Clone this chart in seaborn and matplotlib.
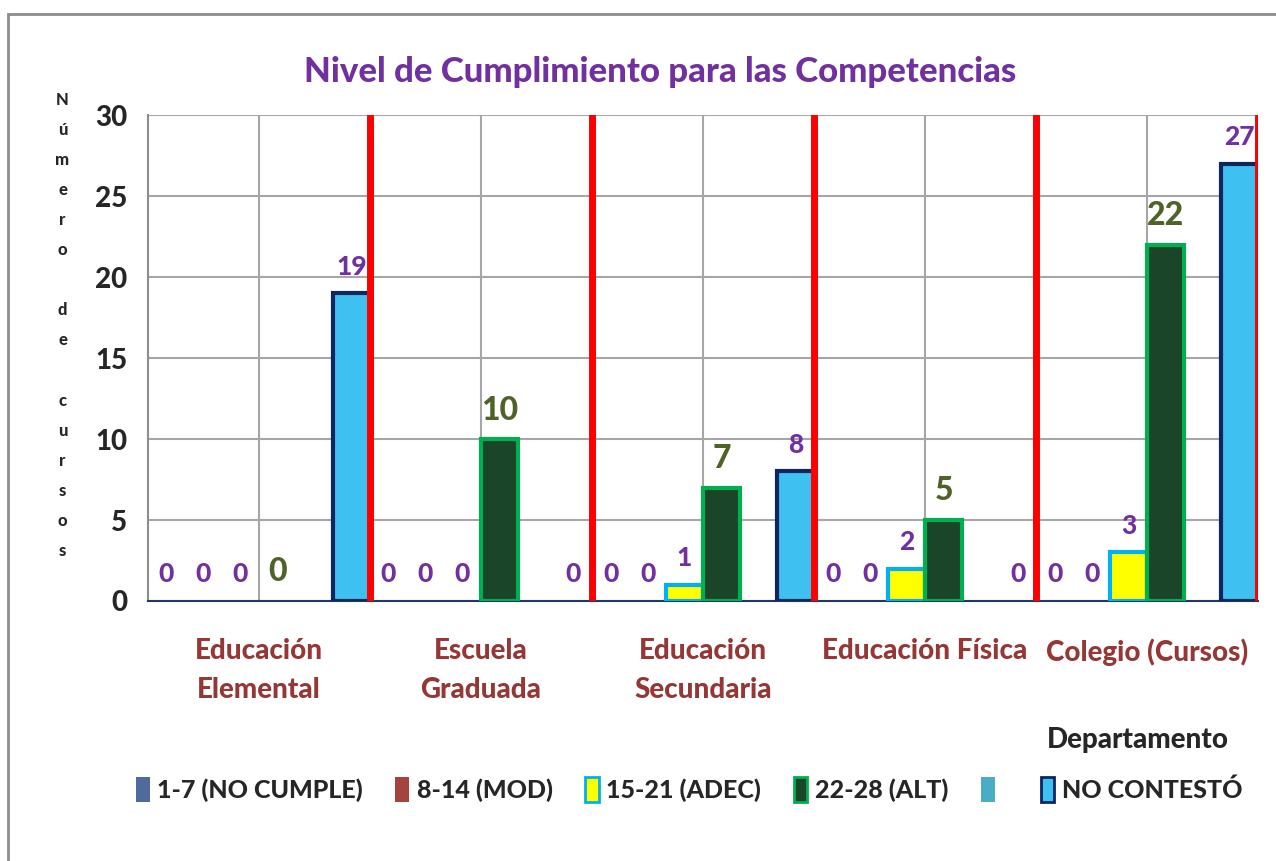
import numpy as np
import pandas as pd
import matplotlib
matplotlib.use("Agg")
import matplotlib.pyplot as plt
from matplotlib.patches import Patch, Rectangle
import seaborn as sns

# data
departamentos = ["Educación\nElemental", "Escuela\nGraduada", "Educación\nSecundaria",
                 "Educación Física", "Colegio (Cursos)"]
niveles = ["1-7 (NO CUMPLE)", "8-14 (MOD)", "15-21 (ADEC)", "22-28 (ALT)", " ", "NO CONTESTÓ"]
no_cumple = [0, 0, 0, 0, 0]
moderado = [0, 0, 0, 0, 0]
adecuado = [0, 0, 1, 2, 3]
alto = [0, 10, 7, 5, 22]
vacio = [0, 0, 0, 0, 0]          # series with no data / no labels
no_contesto = [19, 0, 8, 0, 27]

series = [no_cumple, moderado, adecuado, alto, vacio, no_contesto]
fill = ["#4F6A9B", "#A5433F", "#FFFF00", "#1A4528", "#4BACC6", "#3EC1F0"]
edge = ["#4F6A9B", "#A5433F", "#00B0F0", "#00B050", "#4BACC6", "#0D2560"]
purple = "#7030A0"
olive = "#4F6228"
W = "black"

rows = []
for nivel, vals in zip(niveles, series):
    for dep, v in zip(departamentos, vals):
        rows.append({"Departamento": dep, "Nivel": nivel, "Cursos": v})
df = pd.DataFrame(rows)

sns.set_style("white")
plt.rcParams["font.family"] = ["Lato", "DejaVu Sans"]
plt.rcParams["font.weight"] = W

fig = plt.figure(figsize=(12.76, 8.61), dpi=100)
ax = fig.add_axes([0.116, 0.302, 0.870, 0.564])

sns.barplot(data=df, x="Departamento", y="Cursos", hue="Nivel", hue_order=niveles,
            order=departamentos, width=1.0, gap=0, ax=ax, legend=False)

for i, cont in enumerate(ax.containers):
    for bar in cont:
        h = bar.get_height()
        bar.set_facecolor(fill[i])
        bar.set_edgecolor(edge[i])
        bar.set_linewidth(3 if (i in (2, 3, 5) and h > 0) else 0)
        bar.set_zorder(3)
        if i == 4 or h == 0:
            bar.set_visible(False)
    if i == 4:
        continue
    for bar in cont:
        h = bar.get_height()
        x = bar.get_x() + bar.get_width() / 2
        if i == 3:
            ax.text(x, h + 0.9, f"{h:g}", ha="center", va="bottom", color=olive,
                    fontsize=23, fontweight=W, zorder=5)
        else:
            ax.text(x, h + 0.9, f"{h:g}", ha="center", va="bottom", color=purple,
                    fontsize=19, fontweight=W, zorder=5)

# red separators between departments
for b in np.arange(0.5, len(departamentos), 1.0):
    ax.axvline(b, color="#FF0000", lw=5, zorder=4)

ax.set_xlim(-0.5, len(departamentos) - 0.5)
ax.set_ylim(0, 30)
ax.set_yticks(range(0, 31, 5))
ax.set_yticks(range(0, 31), minor=True)
ax.set_xticks(range(len(departamentos)))
ax.set_xticks(np.arange(-0.5, len(departamentos), 1.0), minor=True)
ax.set_xticklabels(departamentos, color="#953735", fontsize=20, fontweight=W, linespacing=1.6)
ax.tick_params(axis="x", which="major", length=0, pad=27)
ax.tick_params(axis="x", which="minor", length=6, color="#1F3864", direction="out")
ax.tick_params(axis="y", which="major", length=9, color="#8C8C8C", labelsize=20, pad=6)
ax.tick_params(axis="y", which="minor", length=5, color="#8C8C8C")
for lab in ax.get_yticklabels():
    lab.set_fontweight(W)

ax.set_axisbelow(True)
ax.grid(True, which="major", color="#A6A6A6", lw=1.5)
for s in ["top", "right"]:
    ax.spines[s].set_visible(False)
ax.spines["left"].set_color("#8C8C8C")
ax.spines["left"].set_linewidth(1.5)
ax.spines["bottom"].set_color("#1F3864")
ax.spines["bottom"].set_linewidth(1.5)

ax.set_xlabel("")
ax.set_ylabel("")
fig.text(0.049, 0.893, "N\nú\nm\ne\nr\no\n\nd\ne\n\nc\nu\nr\ns\no\ns", ha="center", va="top",
         fontsize=12, fontweight=W, linespacing=2.08)
fig.text(0.892, 0.141, "Departamento", ha="center", va="center", fontsize=20, fontweight=W)
fig.text(0.517, 0.916, "Nivel de Cumplimiento para las Competencias", ha="center", va="center",
         color=purple, fontsize=25, fontweight=W)

handles = [Patch(facecolor=f, edgecolor=e, linewidth=2 if i in (2, 3, 5) else 0)
           for i, (f, e) in enumerate(zip(fill, edge))]
fig.legend(handles, niveles, loc="center", bbox_to_anchor=(0.540, 0.083), ncol=6, frameon=False,
           prop={"size": 18, "weight": W}, handlelength=0.55, handleheight=1.2,
           handletextpad=0.3, columnspacing=1.3)

fig.patches.append(Rectangle((8 / 1276, -0.1), 1.2, 1.0837, transform=fig.transFigure,
                             fill=False, edgecolor="#8C8C8C", lw=2))

fig.savefig("out.png", dpi=100)
